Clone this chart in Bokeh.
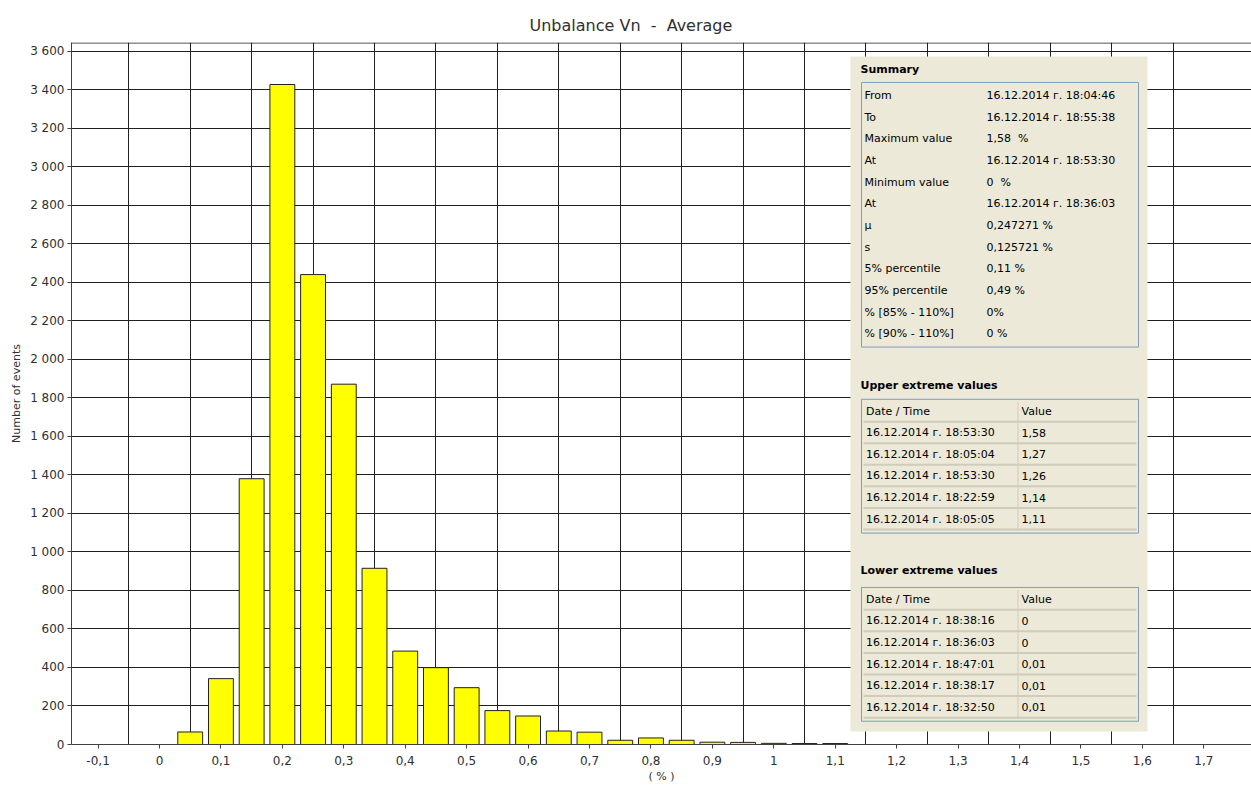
from bokeh.plotting import figure
from bokeh.models import ColumnDataSource, FixedTicker, Span
from bokeh.core.properties import value
from bokeh.embed import file_html
from bokeh.resources import INLINE

# ---------------- data ----------------
bin_centers = [0.05, 0.10, 0.15, 0.20, 0.25, 0.30, 0.35, 0.40, 0.45, 0.50, 0.55,
               0.60, 0.65, 0.70, 0.75, 0.80, 0.85, 0.90, 0.95, 1.00, 1.05, 1.10]
event_counts = [65, 342, 1380, 3427, 2440, 1871, 915, 485, 399, 295, 176,
                148, 70, 64, 22, 34, 22, 12, 11, 6, 5, 5]

x_ticks = [-0.1, 0.0, 0.1, 0.2, 0.3, 0.4, 0.5, 0.6, 0.7, 0.8, 0.9, 1.0,
           1.1, 1.2, 1.3, 1.4, 1.5, 1.6, 1.7]
x_tick_labels = ["-0,1", "0", "0,1", "0,2", "0,3", "0,4", "0,5", "0,6", "0,7", "0,8",
                 "0,9", "1", "1,1", "1,2", "1,3", "1,4", "1,5", "1,6", "1,7"]
x_grid_lines = [-0.05, 0.05, 0.15, 0.25, 0.35, 0.45, 0.55, 0.65, 0.75, 0.85,
                0.95, 1.05, 1.15, 1.25, 1.35, 1.45, 1.55, 1.65]
y_ticks = [0, 200, 400, 600, 800, 1000, 1200, 1400, 1600, 1800, 2000,
           2200, 2400, 2600, 2800, 3000, 3200, 3400, 3600]
y_tick_labels = ["0", "200", "400", "600", "800", "1 000", "1 200", "1 400", "1 600",
                 "1 800", "2 000", "2 200", "2 400", "2 600", "2 800", "3 000",
                 "3 200", "3 400", "3 600"]

title_text = "Unbalance Vn \u00a0-\u00a0 Average"
x_label = "( % )"
y_label = "Number of events"

summary_labels = ["From", "To", "Maximum value", "At", "Minimum value", "At", "\u00b5", "s",
                  "5% percentile", "95% percentile", "% [85% - 110%]", "% [90% - 110%]"]
summary_values = ["16.12.2014 \u0433. 18:04:46", "16.12.2014 \u0433. 18:55:38", "1,58 \u00a0%",
                  "16.12.2014 \u0433. 18:53:30", "0 \u00a0%", "16.12.2014 \u0433. 18:36:03",
                  "0,247271 %", "0,125721 %", "0,11 %", "0,49 %", "0%", "0 %"]

upper_times = ["16.12.2014 \u0433. 18:53:30", "16.12.2014 \u0433. 18:05:04",
               "16.12.2014 \u0433. 18:53:30", "16.12.2014 \u0433. 18:22:59",
               "16.12.2014 \u0433. 18:05:05"]
upper_values = ["1,58", "1,27", "1,26", "1,14", "1,11"]
lower_times = ["16.12.2014 \u0433. 18:38:16", "16.12.2014 \u0433. 18:36:03",
               "16.12.2014 \u0433. 18:47:01", "16.12.2014 \u0433. 18:38:17",
               "16.12.2014 \u0433. 18:32:50"]
lower_values = ["0", "0", "0,01", "0,01", "0,01"]
table_header = ["Date / Time", "Value"]

# ---------------- layout (page pixels) ----------------
W, H = 1251, 785
FRAME_L, FRAME_R, FRAME_T, FRAME_B = 71, 1251, 42, 745
SX = 614.3      # px per x unit
SY = 0.19286    # px per y unit
x_start = -(159 - FRAME_L) / SX
x_end = x_start + (FRAME_R - FRAME_L) / SX
y_end = (FRAME_B - FRAME_T) / SY


def X(px):
    return x_start + (px - FRAME_L) / SX


def Y(py):
    return (FRAME_B - py) / SY


FONT = value("DejaVu Sans")
BAR_WIDTH = 0.0405

p = figure(width=W, height=H, output_backend="svg", toolbar_location=None,
           x_range=(x_start, x_end), y_range=(0, y_end),
           min_border_left=FRAME_L, min_border_right=W - FRAME_R,
           min_border_top=FRAME_T, min_border_bottom=H - FRAME_B,
           background_fill_color="white", border_fill_color="white")
p.outline_line_color = None

# title
p.title.text = title_text
p.title.align = "left"
p.title.offset = 529 - FRAME_L
p.title.text_font = "DejaVu Sans"
p.title.text_font_size = "16px"
p.title.text_font_style = "normal"
p.title.text_color = "#303030"
p.title.standoff = 15

# axes
p.xaxis.ticker = FixedTicker(ticks=x_ticks)
p.xaxis.major_label_overrides = {t: l for t, l in zip(x_ticks, x_tick_labels)}
p.yaxis.ticker = FixedTicker(ticks=y_ticks)
p.yaxis.major_label_overrides = {t: l for t, l in zip(y_ticks, y_tick_labels)}
p.xaxis.axis_label = x_label
p.yaxis.axis_label = y_label
for ax in (p.xaxis, p.yaxis):
    ax.axis_line_color = "#404040"
    ax.axis_line_width = 1
    ax.major_tick_line_color = "#404040"
    ax.major_tick_out = 4
    ax.major_tick_in = 0
    ax.minor_tick_line_color = None
    ax.major_label_text_font = "DejaVu Sans"
    ax.major_label_text_font_size = "12px"
    ax.major_label_text_color = "#303030"
    ax.axis_label_text_font = "DejaVu Sans"
    ax.axis_label_text_font_size = "11px"
    ax.axis_label_text_font_style = "normal"
    ax.axis_label_text_color = "#303030"
p.xaxis.major_label_standoff = 7
p.xaxis.axis_label_standoff = 2
p.yaxis.major_label_standoff = 3
p.yaxis.axis_label_standoff = 4

# grid
p.xgrid.ticker = FixedTicker(ticks=x_grid_lines)
p.ygrid.ticker = FixedTicker(ticks=y_ticks)
for g in (p.xgrid, p.ygrid):
    g.grid_line_color = "#202020"
    g.grid_line_width = 1
    g.grid_line_alpha = 1

# top frame line
p.add_layout(Span(location=Y(FRAME_T + 0.5), dimension="width",
                  line_color="#202020", line_width=1))

# bars
src = ColumnDataSource(dict(x=bin_centers, top=event_counts))
p.vbar(x="x", top="top", bottom=0, width=BAR_WIDTH, source=src,
       fill_color="#FFFF00", line_color="#202020", line_width=1)

# ---------------- summary panel ----------------
PANEL_BG = "#ECE9D8"
BOX_LINE = "#7F9DB9"
SEP = "#CFCCBE"
p.quad(left=X(850), right=X(1147), top=Y(56), bottom=Y(732),
       fill_color=PANEL_BG, line_color=None)

# section titles
sec_src = ColumnDataSource(dict(
    x=[X(860)] * 3, y=[Y(69), Y(385), Y(571)],
    t=["Summary", "Upper extreme values", "Lower extreme values"]))
p.text(x="x", y="y", text="t", source=sec_src, text_font=FONT,
       text_font_size="11px", text_font_style="bold", text_color="black",
       text_baseline="middle", text_align="left")

# summary box
p.quad(left=X(861), right=X(1138), top=Y(82), bottom=Y(347),
       fill_color=None, line_color=BOX_LINE, line_width=1)
row_y = [Y(95 + 21.7 * i) for i in range(len(summary_labels))]
p.text(x=[X(864)] * len(summary_labels), y=row_y, text=summary_labels,
       text_font=FONT, text_font_size="11px", text_color="black",
       text_baseline="middle", text_align="left")
p.text(x=[X(986)] * len(summary_values), y=row_y, text=summary_values,
       text_font=FONT, text_font_size="11px", text_color="black",
       text_baseline="middle", text_align="left")


def draw_table(top_px, times, vals):
    bottom_px = top_px + 134
    p.quad(left=X(861), right=X(1138), top=Y(top_px), bottom=Y(bottom_px),
           fill_color=None, line_color=BOX_LINE, line_width=1)
    seps = [top_px + 22.4 + 21.6 * k for k in range(len(times) + 1)]
    p.segment(x0=[X(863)] * len(seps), x1=[X(1136)] * len(seps),
              y0=[Y(s) for s in seps], y1=[Y(s) for s in seps],
              line_color=SEP, line_width=2)
    p.segment(x0=[X(1017.5)], x1=[X(1017.5)], y0=[Y(top_px + 3)],
              y1=[Y(bottom_px - 3)], line_color=SEP, line_width=1)
    hy = Y(top_px + 12.4)
    p.text(x=[X(865.5), X(1021)], y=[hy, hy], text=table_header,
           text_font=FONT, text_font_size="11px", text_color="black",
           text_baseline="middle", text_align="left")
    ry = [Y(top_px + 33.6 + 21.6 * k) for k in range(len(times))]
    p.text(x=[X(865.5)] * len(times), y=ry, text=times,
           text_font=FONT, text_font_size="11px", text_color="black",
           text_baseline="middle", text_align="left")
    p.text(x=[X(1021)] * len(vals), y=ry, text=vals,
           text_font=FONT, text_font_size="11px", text_color="black",
           text_baseline="middle", text_align="left")


draw_table(399.3, upper_times, upper_values)
draw_table(587.7, lower_times, lower_values)

open("out.html", "w").write(file_html(p, INLINE))
